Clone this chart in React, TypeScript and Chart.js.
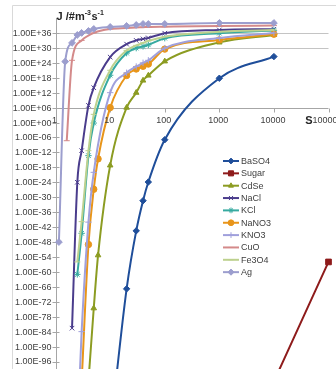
import React, { useEffect, useRef } from 'react';
import { Chart, registerables } from 'chart.js';
import { drawPoint } from 'chart.js/helpers';

Chart.register(...registerables);

// ---- data (S = supersaturation, values = log10 of J) ----
const seriesNames = ['BaSO4', 'Sugar', 'CdSe', 'NaCl', 'KCl', 'NaNO3', 'KNO3', 'CuO', 'Fe3O4', 'Ag'];

const baso4S = [10, 20, 30, 40, 50, 100, 1000, 10000];
const baso4LogJ = [-125, -66.8, -43.5, -31.4, -23.9, -6.9, 17.8, 26.5];

const sugarS = [10000, 100000];
const sugarLogJ = [-104, -56];

const cdseS = [4, 5, 6, 10, 20, 30, 40, 50, 100, 1000, 10000];
const cdseLogJ = [-104, -74.6, -53.3, -17.2, 6, 12, 16.9, 18.9, 24.6, 32.2, 35.2];

const naclS = [2, 2.5, 3, 4, 5, 10, 20, 30, 40, 50, 100, 1000, 10000];
const naclLogJ = [-82.6, -24, -11.3, 6.9, 14, 26.3, 31.5, 33, 33.6, 34, 35.9, 37.2, 37.5];

const kclS = [2.5, 3, 4, 5, 10, 20, 30, 40, 50, 100, 1000, 10000];
const kclLogJ = [-61, -44.5, -13.3, -0.2, 19, 27.9, 29.9, 30.6, 31.2, 33.9, 35.9, 37];

const nano3S = [3, 4, 5, 6, 10, 20, 30, 40, 50, 100, 1000, 10000];
const nano3LogJ = [-104, -49, -26.8, -14.6, 6, 18.9, 21.5, 22.6, 23.5, 29.5, 33.2, 35.5];

const kno3S = [2.5, 3, 4, 5, 10, 20, 30, 40, 50, 100, 1000, 10000];
const kno3LogJ = [-125, -84, -40, -20, 12, 20, 22.5, 24, 25, 29.9, 34, 36];

const cuoS = [1.6, 2, 3, 5, 10, 20, 30, 40, 50, 100, 1000, 10000];
const cuoLogJ = [-7.3, 25, 33, 36, 37.6, 38, 38.2, 38.3, 38.4, 38.5, 38.8, 39];

const fe3o4S = [2.5, 3, 4, 5, 10, 20, 30, 40, 50, 100, 1000, 10000];
const fe3o4LogJ = [-56, -39.8, -11.3, 3.3, 21, 29, 31, 32, 32.8, 34.5, 36.5, 37.2];

const agS = [1.15, 1.5, 2, 2.5, 3, 4, 5, 10, 20, 30, 40, 50, 100, 1000, 10000];
const agLogJ = [-48, 24.5, 32, 35.2, 36, 36.8, 37.6, 38.4, 38.8, 39.2, 39.6, 39.6, 39.6, 40, 40];

const seriesS = [baso4S, sugarS, cdseS, naclS, kclS, nano3S, kno3S, cuoS, fe3o4S, agS];
const seriesLogJ = [baso4LogJ, sugarLogJ, cdseLogJ, naclLogJ, kclLogJ, nano3LogJ, kno3LogJ, cuoLogJ, fe3o4LogJ, agLogJ];

const seriesColors = ['#1F4E9A', '#8E1B1B', '#8C9C22', '#4A3C8C', '#36AAA0', '#E8951A', '#A0A0DC', '#D48A8A', '#BDD18E', '#9C9ECE'];
const seriesMarkers = ['rectRot', 'rect', 'triangle', 'crossRot', 'star', 'circle', 'cross', 'line', 'line', 'rectRot'];
const seriesMarkerSize = [3.2, 4, 3.2, 3.2, 3.2, 3.2, 3.2, 3, 3, 3.4];

const xTickValues = [1, 10, 100, 1000, 10000, 100000];
const xTickLabels = ['1', '10', '100', '1000', '10000', '100000'];
const yTickValues = [1e36, 1e30, 1e24, 1e18, 1e12, 1e6, 1, 1e-6, 1e-12, 1e-18, 1e-24, 1e-30, 1e-36, 1e-42, 1e-48, 1e-54, 1e-60, 1e-66, 1e-72, 1e-78, 1e-84, 1e-90, 1e-96];
const yTickLabels = ['1.00E+36', '1.00E+30', '1.00E+24', '1.00E+18', '1.00E+12', '1.00E+06', '1.00E+00', '1.00E-06', '1.00E-12', '1.00E-18', '1.00E-24', '1.00E-30', '1.00E-36', '1.00E-42', '1.00E-48', '1.00E-54', '1.00E-60', '1.00E-66', '1.00E-72', '1.00E-78', '1.00E-84', '1.00E-90', '1.00E-96'];
const gridValues = [1e36, 1e30];
const xAxisCrossing = 1e6;
const yAxisTop = 1e42;
const xAxisTitle = 'S';
const yTitleParts = [['J /#m', false], ['-3', true], ['s', false], ['-1', true]] as [string, boolean][];

const FONT = '"Liberation Sans", Arial, sans-serif';

const decorPlugin = {
  id: 'decor',
  beforeDatasetsDraw(chart: any) {
    const { ctx, chartArea } = chart;
    const x = chart.scales.x;
    const y = chart.scales.y;
    ctx.save();
    ctx.strokeStyle = '#D9D9D9';
    ctx.lineWidth = 1;
    ctx.beginPath();
    ctx.moveTo(12.5, chart.height);
    ctx.lineTo(12.5, 5.5);
    ctx.lineTo(chart.width, 5.5);
    ctx.stroke();
    ctx.strokeStyle = '#C4C4C4';
    for (const v of gridValues) {
      const py = Math.round(y.getPixelForValue(v)) + 0.5;
      ctx.beginPath();
      ctx.moveTo(chartArea.left, py);
      ctx.lineTo(chartArea.right, py);
      ctx.stroke();
    }
    ctx.strokeStyle = '#A6A6A6';
    const ay = Math.round(y.getPixelForValue(xAxisCrossing)) + 0.5;
    ctx.beginPath();
    ctx.moveTo(chartArea.left, ay);
    ctx.lineTo(chartArea.right, ay);
    for (const v of xTickValues) {
      const px = Math.round(x.getPixelForValue(v)) + 0.5;
      ctx.moveTo(px, ay);
      ctx.lineTo(px, ay + 4);
    }
    ctx.stroke();
    const ax = Math.round(x.getPixelForValue(1)) + 0.5;
    ctx.beginPath();
    ctx.moveTo(ax, y.getPixelForValue(yAxisTop));
    ctx.lineTo(ax, chart.height);
    for (const v of yTickValues) {
      const py = Math.round(y.getPixelForValue(v)) + 0.5;
      ctx.moveTo(ax - 4, py);
      ctx.lineTo(ax + 3, py);
    }
    ctx.stroke();
    ctx.restore();
  },
  afterDraw(chart: any) {
    const { ctx } = chart;
    const x = chart.scales.x;
    const y = chart.scales.y;
    ctx.save();
    ctx.fillStyle = '#404040';
    ctx.font = `9px ${FONT}`;
    ctx.textAlign = 'right';
    ctx.textBaseline = 'middle';
    const ax = x.getPixelForValue(1);
    yTickValues.forEach((v, i) => {
      ctx.fillText(yTickLabels[i], ax - 4, y.getPixelForValue(v) + 0.5);
    });
    ctx.textAlign = 'center';
    const ay = y.getPixelForValue(xAxisCrossing);
    xTickValues.forEach((v, i) => {
      ctx.fillText(xTickLabels[i], x.getPixelForValue(v) - 1, ay + 13);
    });
    ctx.font = `bold 11px ${FONT}`;
    ctx.fillStyle = '#262626';
    ctx.fillText(xAxisTitle, 309, ay + 13);
    ctx.textAlign = 'left';
    ctx.textBaseline = 'alphabetic';
    let tx = ax + 1;
    for (const [t, sup] of yTitleParts) {
      ctx.font = sup ? `bold 7px ${FONT}` : `bold 11px ${FONT}`;
      ctx.fillText(t, tx, sup ? 15 : 19.5);
      tx += ctx.measureText(t).width + (sup ? 0.5 : 0);
    }
    ctx.font = `9px ${FONT}`;
    ctx.textBaseline = 'middle';
    seriesNames.forEach((name, i) => {
      const ly = 161 + i * 12.35;
      ctx.strokeStyle = seriesColors[i];
      ctx.fillStyle = seriesColors[i];
      ctx.lineWidth = 2;
      ctx.beginPath();
      ctx.moveTo(223, ly);
      ctx.lineTo(239, ly);
      ctx.stroke();
      ctx.lineWidth = 1;
      drawPoint(ctx, { pointStyle: seriesMarkers[i], radius: seriesMarkerSize[i] * 0.9, borderWidth: 1, rotation: 0 } as any, 231, ly);
      ctx.fillStyle = '#404040';
      ctx.fillText(name, 241, ly + 0.5);
    });
    ctx.restore();
  },
};

export default function App() {
  const ref = useRef<HTMLCanvasElement>(null);
  useEffect(() => {
    if (!ref.current) return;
    const datasets = seriesNames.map((name, i) => ({
      label: name,
      data: seriesS[i].map((s, k) => ({ x: s, y: Math.pow(10, seriesLogJ[i][k]) })),
      borderColor: seriesColors[i],
      backgroundColor: seriesColors[i],
      borderWidth: 2,
      pointStyle: seriesMarkers[i] as any,
      pointRadius: seriesMarkerSize[i],
      pointBorderWidth: 1,
      pointBorderColor: seriesColors[i],
      pointBackgroundColor: seriesColors[i],
      cubicInterpolationMode: 'monotone' as const,
      order: 10 - i,
      clip: { left: 10, top: 10, right: 10, bottom: 10 } as any,
    }));
    const chart = new Chart(ref.current, {
      type: 'line',
      data: { datasets },
      options: {
        animation: false,
        responsive: false,
        layout: { padding: { left: 55.6, right: 7.5, top: 18, bottom: 2.1 } },
        scales: {
          x: { type: 'logarithmic', display: false, min: 1, max: 100000 },
          y: { type: 'logarithmic', display: false, min: 1e-97, max: 1e42 },
        },
        plugins: { legend: { display: false }, tooltip: { enabled: false } },
      },
      plugins: [decorPlugin],
    });
    return () => chart.destroy();
  }, []);
  return (
    <div style={{ position: 'fixed', left: 0, top: 0, width: 336, height: 369, background: '#fff' }}>
      <canvas ref={ref} width={336} height={369} style={{ display: 'block' }} />
    </div>
  );
}
